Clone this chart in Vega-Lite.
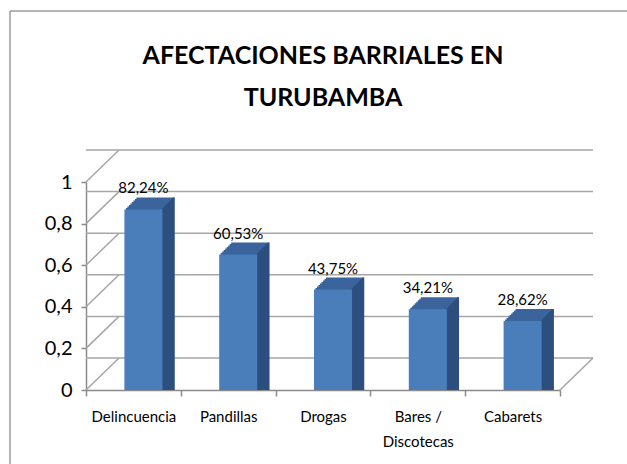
{
  "$schema": "https://vega.github.io/schema/vega-lite/v6.json",
  "autosize": {"type": "none"},
  "width": 474,
  "height": 208,
  "padding": {"left": 86, "top": 182, "right": 67, "bottom": 74},
  "background": "white",
  "title": {
    "text": ["AFECTACIONES BARRIALES EN", "TURUBAMBA"],
    "font": "Lato",
    "fontSize": 25,
    "fontWeight": "bold",
    "lineHeight": 42,
    "color": "#000000",
    "anchor": "middle",
    "offset": -101
  },
  "config": {
    "view": {"stroke": null},
    "locale": {"number": {"decimal": ",", "thousands": ".", "grouping": [3], "currency": ["", " €"]}}
  },
  "datasets": {
    "ticks": [{"v": 0}, {"v": 0.2}, {"v": 0.4}, {"v": 0.6}, {"v": 0.8}, {"v": 1}],
    "floor": [{"v": 0}]
  },
  "data": {"values": [
    {"cat": "Delincuencia", "val": 0.8224},
    {"cat": "Pandillas", "val": 0.6053},
    {"cat": "Drogas", "val": 0.4375},
    {"cat": "Bares / Discotecas", "val": 0.3421},
    {"cat": "Cabarets", "val": 0.2862}
  ]},
  "layer": [
    {
      "data": {"name": "ticks"},
      "mark": {"type": "rule", "color": "#a6a6a6", "strokeWidth": 1.5, "xOffset": 33, "x2Offset": 33, "yOffset": -32, "y2Offset": -32},
      "encoding": {"y": {"field": "v", "type": "quantitative", "scale": {"domain": [0, 1], "nice": false},
        "axis": {
            "title": null, "values": [0, 0.2, 0.4, 0.6, 0.8, 1], "format": ".1~f",
            "labelFont": "Lato", "labelFontSize": 20, "labelColor": "#000000",
            "labelPadding": 9, "domainColor": "#8a8a8a", "domainWidth": 1.5,
            "tickColor": "#8a8a8a", "tickWidth": 1.5, "tickSize": 5, "grid": false
        }}}
    },
    {
      "data": {"name": "ticks"},
      "mark": {"type": "rule", "color": "#a6a6a6", "strokeWidth": 1.5, "x2Offset": 33, "y2Offset": -32},
      "encoding": {
        "x": {"value": 0},
        "x2": {"value": 0},
        "y": {"field": "v", "type": "quantitative"},
        "y2": {"field": "v"}
      }
    },
    {
      "data": {"name": "floor"},
      "mark": {"type": "rule", "color": "#a6a6a6", "strokeWidth": 1.5, "x2Offset": 33, "y2Offset": -32},
      "encoding": {
        "x": {"value": {"expr": "width"}},
        "x2": {"value": {"expr": "width"}},
        "y": {"field": "v", "type": "quantitative"},
        "y2": {"field": "v"}
      }
    },
    {
      "data": {"values": [{}]},
      "mark": {"type": "rule", "color": "#9a9a9a", "strokeWidth": 1.5},
      "encoding": {"x": {"value": -76}, "x2": {"value": -76}, "y": {"value": -171}, "y2": {"value": 300}}
    },
    {
      "data": {"values": [{}]},
      "mark": {"type": "rule", "color": "#9a9a9a", "strokeWidth": 1.5},
      "encoding": {"x": {"value": -76}, "x2": {"value": 560}, "y": {"value": -171}, "y2": {"value": -171}}
    },
    {
      "encoding": {
        "x": {
          "field": "cat", "type": "nominal", "sort": null,
          "scale": {"paddingInner": 0, "paddingOuter": 0},
          "axis": {
            "title": null, "labelAngle": 0, "labelFont": "Lato", "labelFontSize": 15,
            "labelColor": "#000000", "labelPadding": 13, "labelLineHeight": 25,
            "labelExpr": "datum.value == 'Bares / Discotecas' ? ['Bares /', 'Discotecas'] : datum.value",
            "domainColor": "#8a8a8a", "domainWidth": 1.5, "tickColor": "#8a8a8a", "tickWidth": 1.5, "tickSize": 6,
            "tickBand": "extent", "grid": false
          }
        },
        "y": {
          "field": "val", "type": "quantitative", "stack": null,
          "scale": {"domain": [0, 1], "nice": false},
          "axis": {
            "title": null, "values": [0, 0.2, 0.4, 0.6, 0.8, 1], "format": ".1~f",
            "labelFont": "Lato", "labelFontSize": 20, "labelColor": "#000000",
            "labelPadding": 9, "domainColor": "#8a8a8a", "domainWidth": 1.5,
            "tickColor": "#8a8a8a", "tickWidth": 1.5, "tickSize": 5, "grid": false
          }
        }
      },
      "layer": [
        {"mark": {"type": "bar", "width": 38, "color": "#3b639c", "xOffset": 11.5, "yOffset": -11, "y2Offset": -11}},
        {"mark": {"type": "bar", "width": 38, "color": "#3b639c", "xOffset": 13, "yOffset": -12.5, "y2Offset": -12.5}},
        {"mark": {"type": "bar", "width": 38, "color": "#3b639c", "xOffset": 14.5, "yOffset": -14, "y2Offset": -14}},
        {"mark": {"type": "bar", "width": 38, "color": "#3b639c", "xOffset": 16, "yOffset": -15.5, "y2Offset": -15.5}},
        {"mark": {"type": "bar", "width": 38, "color": "#3b639c", "xOffset": 17.5, "yOffset": -17, "y2Offset": -17}},
        {"mark": {"type": "bar", "width": 38, "color": "#3b639c", "xOffset": 19, "yOffset": -18.5, "y2Offset": -18.5}},
        {"mark": {"type": "bar", "width": 38, "color": "#3b639c", "xOffset": 20.5, "yOffset": -20, "y2Offset": -20}},
        {"mark": {"type": "bar", "width": 38, "color": "#3b639c", "xOffset": 22, "yOffset": -21.5, "y2Offset": -21.5}},
        {"mark": {"type": "bar", "width": 2, "color": "#2d4f7f", "xOffset": 29.75, "yOffset": -11, "y2Offset": -11}},
        {"mark": {"type": "bar", "width": 2, "color": "#2d4f7f", "xOffset": 31.25, "yOffset": -12.5, "y2Offset": -12.5}},
        {"mark": {"type": "bar", "width": 2, "color": "#2d4f7f", "xOffset": 32.75, "yOffset": -14, "y2Offset": -14}},
        {"mark": {"type": "bar", "width": 2, "color": "#2d4f7f", "xOffset": 34.25, "yOffset": -15.5, "y2Offset": -15.5}},
        {"mark": {"type": "bar", "width": 2, "color": "#2d4f7f", "xOffset": 35.75, "yOffset": -17, "y2Offset": -17}},
        {"mark": {"type": "bar", "width": 2, "color": "#2d4f7f", "xOffset": 37.25, "yOffset": -18.5, "y2Offset": -18.5}},
        {"mark": {"type": "bar", "width": 2, "color": "#2d4f7f", "xOffset": 38.75, "yOffset": -20, "y2Offset": -20}},
        {"mark": {"type": "bar", "width": 2, "color": "#2d4f7f", "xOffset": 40.25, "yOffset": -21.5, "y2Offset": -21.5}},
        {"mark": {"type": "bar", "width": 38, "color": "#4a7ebb", "xOffset": 10, "yOffset": -9.5, "y2Offset": -9.5}},
        {
          "mark": {"type": "text", "font": "Lato", "fontSize": 15, "color": "#000000", "baseline": "alphabetic", "xOffset": 10, "yOffset": -25.5},
          "encoding": {"text": {"field": "val", "type": "quantitative", "format": ".2%"}}
        }
      ]
    }
  ]
}
